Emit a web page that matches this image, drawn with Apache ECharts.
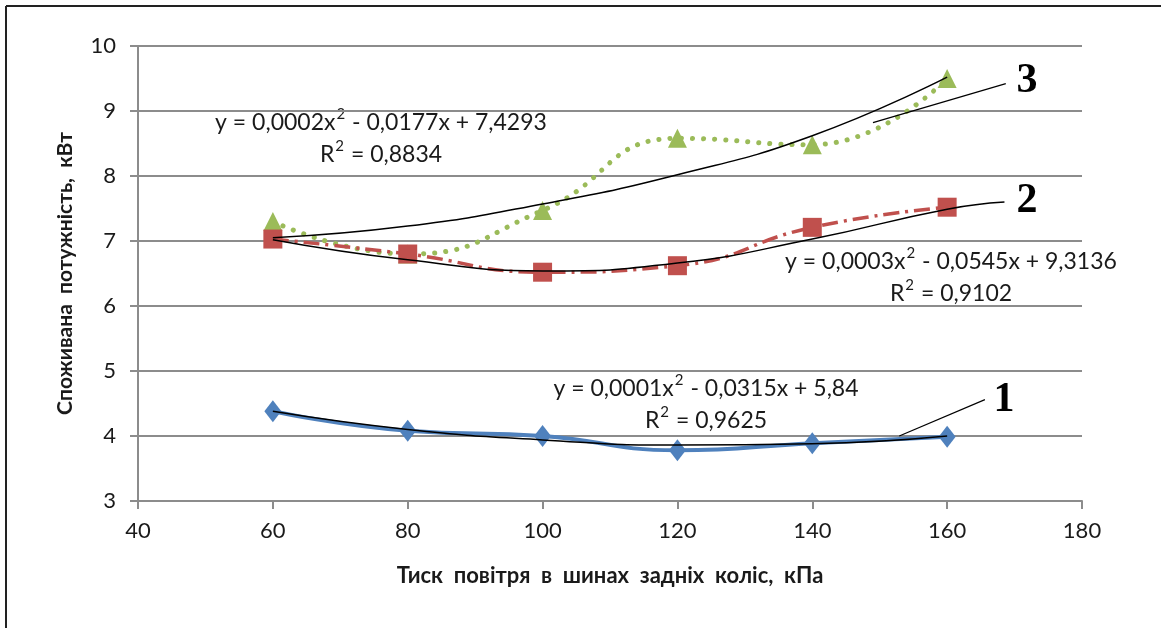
<!DOCTYPE html>
<html>
<head>
<meta charset="utf-8">
<script src="https://cdn.jsdelivr.net/npm/echarts@6/dist/echarts.min.js"></script>
<style>
html,body{margin:0;padding:0;background:#fff;}
#chart{width:1161px;height:628px;}
</style>
</head>
<body>
<div id="chart"></div>
<script>
// ---- data ----
var pressure = [60, 80, 100, 120, 140, 160];
var power1 = [4.38, 4.08, 4.0, 3.78, 3.89, 3.99];
var power2 = [7.03, 6.8, 6.52, 6.62, 7.21, 7.52];
var power3 = [7.3, 6.8, 7.47, 8.58, 8.48, 9.5];
var trendX = [60, 80, 100, 120, 140, 160];
var trend1 = [4.38, 4.1, 3.94, 3.86, 3.88, 4.0];
var trend2X = [60, 80, 100, 120, 140, 160, 168.5];
var trend2 = [7.02, 6.71, 6.54, 6.66, 7.03, 7.49, 7.6];
var trend3 = [7.05, 7.23, 7.57, 8.02, 8.62, 9.52];
var leader1 = [[152.9, 4.0], [165.6, 4.56]];
var leader3 = [[149.0, 8.82], [168.7, 9.42]];
var xTicks = [40, 180, 20];
var yTicks = [3, 10, 1];
// equation parts: [before x², after x², R² value]
var eq1 = ['y = 0,0001x', ' - 0,0315x + 5,84', ' = 0,9625'];
var eq2 = ['y = 0,0003x', ' - 0,0545x + 9,3136', ' = 0,9102'];
var eq3 = ['y = 0,0002x', ' - 0,0177x + 7,4293', ' = 0,8834'];
var curveLabels = ['1', '2', '3'];
var xName = 'Тиск  повітря  в  шинах  задніх  коліс,  кПа';
var yName = 'Споживана  потужність,  кВт';

function pairs(xs, ys) { return xs.map(function (x, i) { return [x, ys[i]]; }); }
function eqText(e) { return e[0] + '{s|2}' + e[1] + '\nR{s|2}' + e[2]; }

var chart = echarts.init(document.getElementById('chart'));
var txtFont = 'Lato, "Open Sans", sans-serif';
var eqStyle = {
  fill: '#1a1a1a', fontSize: 23, fontFamily: txtFont, textAlign: 'center', textVerticalAlign: 'middle', lineHeight: 32,
  rich: { s: { fontSize: 15, fontFamily: txtFont, fill: '#1a1a1a', verticalAlign: 'top', lineHeight: 22, padding: [0, 1, 0, 1] } }
};
var numStyle = { fill: '#000', fontSize: 42, fontWeight: 'bold', fontFamily: '"Liberation Serif", serif', textAlign: 'center', textVerticalAlign: 'middle' };

var option = {
  backgroundColor: '#fff',
  animation: false,
  grid: { left: 138, right: 79, top: 46, bottom: 127 },
  xAxis: {
    type: 'value', min: xTicks[0], max: xTicks[1], interval: xTicks[2],
    name: xName, nameLocation: 'middle', nameGap: 64,
    nameTextStyle: { fontSize: 22, fontWeight: 'bold', color: '#1a1a1a', fontFamily: txtFont },
    axisLine: { show: true, lineStyle: { color: '#8c8c8c', width: 2 } },
    axisTick: { show: true, length: 8, lineStyle: { color: '#8c8c8c', width: 2 } },
    axisLabel: { fontSize: 22, color: '#1a1a1a', margin: 19, fontFamily: txtFont },
    splitLine: { show: false }
  },
  yAxis: {
    type: 'value', min: yTicks[0], max: yTicks[1], interval: yTicks[2],
    name: yName, nameLocation: 'middle', nameGap: 62, nameRotate: 90,
    nameTextStyle: { fontSize: 21, fontWeight: 'bold', color: '#1a1a1a', fontFamily: txtFont },
    axisLine: { show: true, lineStyle: { color: '#8c8c8c', width: 2 } },
    axisTick: { show: true, length: 8, lineStyle: { color: '#8c8c8c', width: 2 } },
    axisLabel: { fontSize: 22, color: '#1a1a1a', margin: 22, fontFamily: txtFont },
    splitLine: { show: true, lineStyle: { color: '#8c8c8c', width: 2 } }
  },
  series: [
    { type: 'line', data: pairs(pressure, power3), smooth: 0.5, symbol: 'triangle', symbolSize: 19,
      itemStyle: { color: '#9BBB59' }, lineStyle: { color: '#9BBB59', width: 5, type: [0.1, 11], cap: 'round' }, z: 3 },
    { type: 'line', data: pairs(pressure, power2), smooth: 0.5, symbol: 'rect', symbolSize: 19,
      itemStyle: { color: '#C0504D' }, lineStyle: { color: '#C0504D', width: 3.5, type: [16, 6, 3, 6] }, z: 4 },
    { type: 'line', data: pairs(pressure, power1), smooth: 0.5, symbol: 'diamond', symbolSize: [17, 22],
      itemStyle: { color: '#4F81BD' }, lineStyle: { color: '#4F81BD', width: 4 }, z: 4 },
    { type: 'line', data: pairs(trendX, trend3), smooth: 0.5, symbol: 'none',
      lineStyle: { color: '#000', width: 1.5 }, z: 6 },
    { type: 'line', data: pairs(trend2X, trend2), smooth: 0.5, symbol: 'none',
      lineStyle: { color: '#000', width: 1.5 }, z: 6 },
    { type: 'line', data: pairs(trendX, trend1), smooth: 0.5, symbol: 'none',
      lineStyle: { color: '#000', width: 1.5 }, z: 6 },
    { type: 'line', data: leader1, symbol: 'none', lineStyle: { color: '#000', width: 1.2 }, z: 6 },
    { type: 'line', data: leader3, symbol: 'none', lineStyle: { color: '#000', width: 1.2 }, z: 6 }
  ],
  graphic: [
    { type: 'line', shape: { x1: 6, y1: 6, x2: 1161, y2: 6 }, style: { stroke: '#222', lineWidth: 2 } },
    { type: 'line', shape: { x1: 6, y1: 6, x2: 6, y2: 628 }, style: { stroke: '#222', lineWidth: 2 } },
    { type: 'text', x: 381, y: 139, style: Object.assign({ text: eqText(eq3) }, eqStyle) },
    { type: 'text', x: 951, y: 278, style: Object.assign({ text: eqText(eq2) }, eqStyle) },
    { type: 'text', x: 706, y: 405, style: Object.assign({ text: eqText(eq1) }, eqStyle) },
    { type: 'text', x: 1004, y: 400, style: Object.assign({ text: curveLabels[0] }, numStyle) },
    { type: 'text', x: 1027, y: 201, style: Object.assign({ text: curveLabels[1] }, numStyle) },
    { type: 'text', x: 1027, y: 81, style: Object.assign({ text: curveLabels[2] }, numStyle) }
  ]
};
chart.setOption(option);
</script>
</body>
</html>
